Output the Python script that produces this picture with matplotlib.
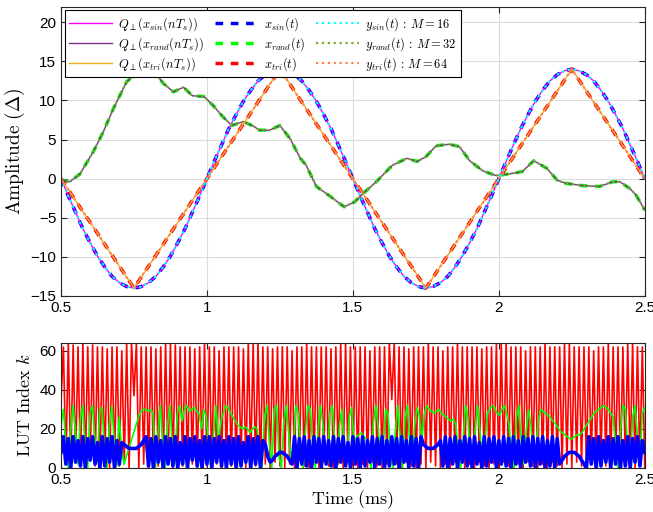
import numpy as np
import matplotlib
matplotlib.use("Agg")
import matplotlib.pyplot as plt

plt.rcParams['mathtext.fontset'] = 'cm'
plt.rcParams['font.family'] = ['Liberation Sans', 'DejaVu Sans']

# ---- upper panel data ----
# sine, sampled every 0.025 ms from 0.5 to 2.5 ms
q_sin = [0, -2.2, -4.3, -6.4, -8.2, -9.9, -11.3, -12.5, -13.3, -13.8, -14,
         -13.8, -13.3, -12.5, -11.3, -9.9, -8.2, -6.4, -4.3, -2.2, 0,
         2.2, 4.3, 6.4, 8.2, 9.9, 11.3, 12.5, 13.3, 13.8, 14,
         13.8, 13.3, 12.5, 11.3, 9.9, 8.2, 6.4, 4.3, 2.2, 0,
         -2.2, -4.3, -6.4, -8.2, -9.9, -11.3, -12.5, -13.3, -13.8, -14,
         -13.8, -13.3, -12.5, -11.3, -9.9, -8.2, -6.4, -4.3, -2.2, 0,
         2.2, 4.3, 6.4, 8.2, 9.9, 11.3, 12.5, 13.3, 13.8, 14,
         13.8, 13.3, 12.5, 11.3, 9.9, 8.2, 6.4, 4.3, 2.2, 0]

# triangle corners
t_tri = [0.5, 0.75, 1.25, 1.75, 2.25, 2.5]
q_tri = [0, -14, 14, -14, 14, 0]

# random signal
t_rand = [0.5, 0.53, 0.565, 0.61, 0.645, 0.68, 0.725, 0.76, 0.80, 0.83, 0.85,
          0.885, 0.92, 0.95, 0.99, 1.02, 1.055, 1.085, 1.125, 1.16, 1.18,
          1.215, 1.25, 1.285, 1.32, 1.34, 1.375, 1.42, 1.47, 1.505, 1.535,
          1.58, 1.635, 1.685, 1.72, 1.75, 1.785, 1.83, 1.865, 1.90, 1.945,
          1.99, 2.035, 2.08, 2.12, 2.165, 2.20, 2.23, 2.29, 2.345, 2.39,
          2.415, 2.45, 2.47, 2.5]
q_rand = [-0.2, -0.4, 0.6, 3.4, 6.0, 9.0, 12.4, 13.5, 14.1, 13.2, 12.2,
          11.1, 11.7, 10.6, 10.5, 9.4, 7.9, 6.8, 7.3, 6.7, 6.2,
          6.2, 6.8, 5.1, 2.6, 1.7, -1.0, -2.2, -3.6, -3.0, -1.9,
          -0.4, 1.7, 2.6, 2.2, 2.8, 4.2, 4.4, 4.1, 2.3, 1.0,
          0.4, 0.6, 0.9, 2.3, 1.3, -0.2, -0.6, -0.9, -1.0, -0.4,
          -0.4, -1.3, -2.1, -4.0]

# ---- lower panel data: LUT index per sample ----
k_tri = [34, 62, 2, 64, 0, 63, 3, 62, 1, 64, 0, 62, 4, 63, 1, 62, 0, 62, 2, 61,
         0, 62, 3, 62, 1, 60, 2, 64, 0, 64, 37, 64, 0, 62, 2, 62, 0, 62, 3, 61,
         1, 62, 0, 64, 2, 64, 0, 63, 4, 62, 1, 62, 0, 62, 2, 61, 0, 62, 3, 64,
         1, 62, 0, 62, 2, 60, 0, 62, 3, 62, 1, 62, 0, 62, 2, 61, 0, 64, 3, 64,
         1, 64, 0, 62, 2, 62, 0, 61, 3, 62, 1, 62, 0, 62, 2, 60, 0, 62, 4, 62,
         1, 64, 0, 62, 2, 62, 0, 62, 3, 62, 1, 61, 0, 62, 2, 64, 0, 64, 3, 62,
         1, 62, 0, 62, 2, 62, 0, 60, 3, 62, 1, 62, 0, 62, 2, 64, 35, 64, 2, 62,
         0, 62, 3, 61, 1, 62, 0, 62, 2, 62, 0, 64, 3, 62, 1, 62, 0, 60, 2, 62,
         0, 62, 3, 64, 1, 62, 0, 62, 2, 62, 0, 62, 3, 61, 1, 62, 0, 62, 2, 64,
         0, 64, 3, 64, 1, 62, 0, 62, 2, 62, 0, 60, 3, 62, 1, 62, 0, 62, 2, 64,
         0, 62, 3, 62, 1, 62, 0, 64, 2, 64, 0, 62, 3, 62, 1, 62, 0, 62, 2, 60,
         0, 62, 3, 62, 1, 64, 0, 62, 2, 62, 0, 62, 3, 64, 1, 64, 0, 62, 2, 62,
         0]

k_rand = [22, 30, 12, 0, 20, 32, 18, 2, 25, 32, 10, 0, 28, 32, 15, 3, 30, 31, 8, 0,
          22, 32, 14, 1, 26, 10, 2, 6, 10, 14, 18, 22, 26, 29, 30, 30,
          29, 30, 28, 0, 16, 32, 14, 0, 22, 32, 10, 2, 28, 32,
          24, 30, 32, 29, 30, 31, 29, 28, 20, 30, 26, 10, 0, 18, 32, 12,
          24, 28, 32, 31, 28, 26, 24, 22, 21, 20, 21, 20, 18, 20, 21, 20, 8, 0,
          26, 32, 14, 0, 30, 32, 6, 0, 24, 32, 18, 2, 12, 32, 28, 4, 0, 20, 32,
          30, 10, 0, 16, 32, 24, 6, 2, 28, 32, 14, 0, 22, 30, 8, 2, 26, 31, 12,
          16, 17, 18, 16, 15, 6, 0, 24, 32, 20, 2, 10, 30, 28, 8, 0, 18, 32, 16,
          0, 26, 32, 12, 3, 22, 31, 26, 14, 28, 32, 30, 29, 28, 29, 30, 28, 27,
          26, 25, 24, 25, 22, 8, 0, 14, 32, 26, 4, 0, 20, 32, 18, 2, 12, 28,
          30, 32, 31, 28, 27, 30, 32, 28, 22, 6, 0, 26, 32, 14, 2, 18, 30, 22,
          4, 0, 24, 30, 29, 28, 27, 26, 24, 23, 21, 19, 18, 17, 16, 15, 15, 16,
          17, 17, 18, 20, 22, 24, 26, 28, 29, 30, 31, 32, 31, 30, 28, 26, 10, 0,
          20, 32, 30, 8, 2, 26, 32, 16, 4, 28, 31]

k_sin = [8, 16, 2, 15, 0, 16, 3, 14, 1, 16, 0, 15, 4, 16, 2, 13, 0, 16, 1, 15,
         3, 16, 0, 14, 2,
         13, 12, 11, 10, 10, 10, 10, 11, 12, 14, 16,
         1, 15, 0, 16, 3, 14, 0, 16, 2, 15, 1, 16, 0, 13, 2, 16, 0, 15, 4, 16,
         1, 14, 0, 16, 2, 16, 0, 15, 3, 16, 1, 14, 0, 16, 2, 15, 0, 16, 1, 13,
         3, 16, 0, 15, 2, 16, 0, 14,
         12, 6, 3, 4, 6, 7, 8, 8, 7, 6, 4, 2,
         16, 0, 15, 2, 16, 1, 14, 0, 16, 3, 15, 0, 16, 2, 14, 1, 16, 0, 15, 3,
         16, 1, 13, 0, 16, 2, 15, 0, 16, 1, 14, 3, 16, 0, 15, 2, 16, 0, 14, 1,
         16, 2, 15, 0, 16, 3, 14, 0, 16, 1, 15, 0, 16,
         12, 11, 10, 10, 10, 11, 12, 14,
         1, 16, 0, 15, 2, 16, 0, 14, 3, 16, 1, 15, 0, 16, 2, 13, 0, 16, 1, 15,
         3, 16, 0, 14, 2, 16, 1, 15, 0, 16, 2, 14, 0, 16, 3, 15, 1, 16, 0, 15,
         2, 16, 0, 14, 1, 16, 0, 15,
         2, 4, 6, 7, 8, 8, 8, 7, 6, 4, 2, 0,
         16, 2, 15, 0, 16, 1, 14, 3, 16, 0, 15, 2, 16, 0, 14, 1, 16, 0, 15, 3,
         16, 1, 14, 8]

t_sin = np.linspace(0.5, 2.5, len(q_sin))

fig = plt.figure(figsize=(6.53, 5.12), dpi=100)
ax1 = fig.add_axes([0.0934, 0.422, 0.894, 0.565])
ax2 = fig.add_axes([0.0934, 0.086, 0.894, 0.244])

dash = (0, (2.2, 2.2))
ax1.plot(t_sin, q_sin, color='#0000ff', lw=2.5, ls=dash, label='$x_{sin}(t)$')
ax1.plot(t_rand, q_rand, color='#00ff00', lw=2.5, ls=dash, label='$x_{rand}(t)$')
ax1.plot(t_tri, q_tri, color='#ff0000', lw=2.5, ls=dash, label='$x_{tri}(t)$')
ax1.plot(t_sin, q_sin, color='#ff00ff', lw=1.0, label='$Q_{\\perp}(x_{sin}(nT_s))$')
ax1.plot(t_rand, q_rand, color='#7e2f8e', lw=1.0, label='$Q_{\\perp}(x_{rand}(nT_s))$')
ax1.plot(t_tri, q_tri, color='#edb120', lw=1.0, label='$Q_{\\perp}(x_{tri}(nT_s))$')
ax1.plot(t_sin, q_sin, color='#00ffff', lw=1.6, ls=':', label='$y_{sin}(t)\\,:\\,M=16$')
ax1.plot(t_rand, q_rand, color='#77ac30', lw=1.6, ls=':', label='$y_{rand}(t)\\,:\\,M=32$')
ax1.plot(t_tri, q_tri, color='#ff7f50', lw=1.6, ls=':', label='$y_{tri}(t)\\,:\\,M=64$')

h, l = ax1.get_legend_handles_labels()
order = [3, 4, 5, 0, 1, 2, 6, 7, 8]
leg = ax1.legend([h[i] for i in order], [l[i] for i in order], ncol=3,
                 loc='upper left', fontsize=9, fancybox=False, framealpha=1,
                 edgecolor='black', borderaxespad=0.3, handlelength=3.4,
                 columnspacing=0.9, labelspacing=0.2, borderpad=0.35, handletextpad=0.5)
leg.get_frame().set_linewidth(0.8)

ax1.set_xlim(0.5, 2.5)
ax1.set_ylim(-15, 22)
ax1.set_yticks(np.arange(-15, 21, 5))
ax1.set_xticks([0.5, 1, 1.5, 2, 2.5])
ax1.set_xticklabels(['0.5', '1', '1.5', '2', '2.5'])
ax1.set_ylabel('$\\mathrm{Amplitude}\\ (\\Delta)$', fontsize=14, labelpad=2)

ax2.plot(np.linspace(0.5, 2.5, len(k_tri)), k_tri, color='#ff0000', lw=1.2)
ax2.plot(np.linspace(0.5, 2.5, len(k_rand)), k_rand, color='#00ff00', lw=1.2)
ax2.plot(np.linspace(0.5, 2.5, len(k_sin)), k_sin, color='#0000ff', lw=2.6)
ax2.set_xlim(0.5, 2.5)
ax2.set_ylim(0, 64)
ax2.set_yticks([0, 20, 40, 60])
ax2.set_xticks([0.5, 1, 1.5, 2, 2.5])
ax2.set_xticklabels(['0.5', '1', '1.5', '2', '2.5'])
ax2.set_ylabel('$\\mathrm{LUT\\ Index}\\ k$', fontsize=13, labelpad=4)
ax2.set_xlabel('$\\mathrm{Time\\ (ms)}$', fontsize=13, labelpad=1)

for ax in (ax1, ax2):
    ax.grid(True, color='#dcdcdc', lw=0.8)
    ax.set_axisbelow(True)
    ax.tick_params(direction='in', top=True, right=True, labelsize=11,
                   color='#262626', length=4)
    for s in ax.spines.values():
        s.set_color('#262626')
        s.set_linewidth(0.8)

fig.savefig('out.png', dpi=100)
